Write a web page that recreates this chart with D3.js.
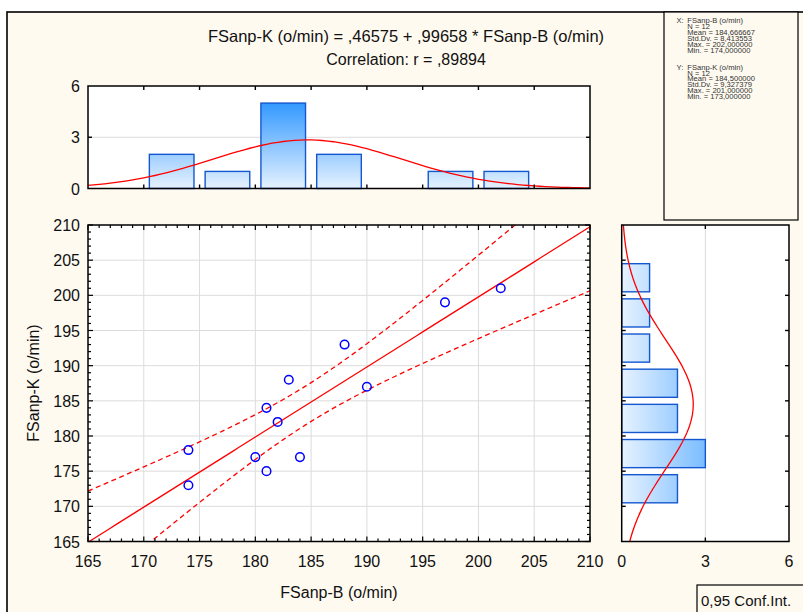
<!DOCTYPE html>
<html><head><meta charset="utf-8">
<script src="https://cdn.jsdelivr.net/npm/d3@7"></script>
<style>
html,body{margin:0;padding:0;background:#fff;}
svg{display:block;font-family:"Liberation Sans",Arial,sans-serif;}
</style></head><body>
<svg id="c" width="803" height="612"></svg>
<script>
// ---- data ----
const xVals = [174,174,180,181,181,182,183,184,188,190,197,202]; // FSanp-B
const yVals = [178,173,177,175,184,182,188,177,193,187,199,201]; // FSanp-K
const xTicks = [165,170,175,180,185,190,195,200,205,210];
const yTicks = [165,170,175,180,185,190,195,200,205,210];
const histTicks = [0,3,6];
const binEdges = [170,175,180,185,190,195,200,205];
const titleLines = ["FSanp-K (o/min) = ,46575 + ,99658 * FSanp-B (o/min)","Correlation: r = ,89894"];
const statsX = ["X:  FSanp-B (o/min)","N = 12","Mean = 184,666667","Std.Dv. = 8,413553","Max. = 202,000000","Min. = 174,000000"];
const statsY = ["Y:  FSanp-K (o/min)","N = 12","Mean = 184,500000","Std.Dv. = 9,327379","Max. = 201,000000","Min. = 173,000000"];
const xLabel = "FSanp-B (o/min)", yLabel = "FSanp-K (o/min)";
const ciLabel = "0,95 Conf.Int.";
const tCrit = 2.228139; // t(0.975, df=10)

const svg = d3.select("#c");
const bg = "#fffaf0";
svg.append("rect").attr("x",0).attr("y",0).attr("width",803).attr("height",612).attr("fill","#fff");
svg.append("rect").attr("x",7).attr("y",12).attr("width",820).attr("height",620).attr("fill",bg).attr("stroke","#000").attr("stroke-width",1.6);

const defs = svg.append("defs");

// panels
const S = {l:88, r:590, t:225, b:541.5};
const T = {l:88, r:590, t:86, b:188.5};
const R = {l:621.7, r:789, t:225, b:541.5};

const x = d3.scaleLinear().domain([165,210]).range([S.l,S.r]);
const y = d3.scaleLinear().domain([165,210]).range([S.b,S.t]);
const hy = d3.scaleLinear().domain([0,6]).range([T.b,T.t]);
const hx = d3.scaleLinear().domain([0,6]).range([R.l,R.r]);

// stats
const n = xVals.length;
const mx = d3.mean(xVals), my = d3.mean(yVals);
const sx = d3.deviation(xVals), sy = d3.deviation(yVals);
let sxy=0, sxx=0;
xVals.forEach((v,i)=>{sxy+=(v-mx)*(yVals[i]-my); sxx+=(v-mx)*(v-mx);});
const slope = sxy/sxx, icpt = my - slope*mx;
let sse=0; xVals.forEach((v,i)=>{const e=yVals[i]-(icpt+slope*v); sse+=e*e;});
const se = Math.sqrt(sse/(n-2));
const pdf = (v,m,s)=>Math.exp(-0.5*((v-m)/s)**2)/(s*Math.sqrt(2*Math.PI));
const binW = 5;

function panelBg(P){
  svg.append("rect").attr("x",P.l).attr("y",P.t).attr("width",P.r-P.l).attr("height",P.b-P.t).attr("fill","#fff");
}
function panelBorder(P){
  svg.append("rect").attr("x",P.l).attr("y",P.t).attr("width",P.r-P.l).attr("height",P.b-P.t).attr("fill","none").attr("stroke","#000").attr("stroke-width",1.5);
}
const grid = "#dcdcdc";

// ===== Scatter panel =====
panelBg(S);
const gS = svg.append("g");
gS.selectAll(".gx").data(xTicks.slice(1,-1)).join("line").attr("x1",d=>x(d)).attr("x2",d=>x(d)).attr("y1",S.t).attr("y2",S.b).attr("stroke",grid).attr("stroke-width",1);
gS.selectAll(".gy").data(yTicks.slice(1,-1)).join("line").attr("y1",d=>y(d)).attr("y2",d=>y(d)).attr("x1",S.l).attr("x2",S.r).attr("stroke",grid).attr("stroke-width",1);

const clipS = defs.append("clipPath").attr("id","clipS");
clipS.append("rect").attr("x",S.l).attr("y",S.t).attr("width",S.r-S.l).attr("height",S.b-S.t);
const gc = svg.append("g").attr("clip-path","url(#clipS)");
const xs = d3.range(165,210.01,0.5);
gc.append("path").datum(xs).attr("fill","none").attr("stroke","#ff0000").attr("stroke-width",1.3)
  .attr("d",d3.line().x(d=>x(d)).y(d=>y(icpt+slope*d)));
const band = d=> tCrit*se*Math.sqrt(1/n + (d-mx)**2/sxx);
[1,-1].forEach(sg=>{
  gc.append("path").datum(xs).attr("fill","none").attr("stroke","#ff0000").attr("stroke-width",1.3).attr("stroke-dasharray","5,3.5")
    .attr("d",d3.line().x(d=>x(d)).y(d=>y(icpt+slope*d+sg*band(d))));
});
svg.append("g").selectAll("circle").data(xVals.map((v,i)=>[v,yVals[i]])).join("circle")
  .attr("cx",d=>x(d[0])).attr("cy",d=>y(d[1])).attr("r",4.3).attr("fill","none").attr("stroke","#0000ff").attr("stroke-width",1.5);

// ticks scatter (major+minor, inward on all sides)
const minor = d3.range(165,211,1);
const tk = svg.append("g").attr("stroke","#000").attr("stroke-width",1.2);
minor.forEach(v=>{
  const L = (v%5===0)?5:3;
  tk.append("line").attr("x1",x(v)).attr("x2",x(v)).attr("y1",S.b).attr("y2",S.b-L);
  tk.append("line").attr("x1",x(v)).attr("x2",x(v)).attr("y1",S.t).attr("y2",S.t+L);
  tk.append("line").attr("y1",y(v)).attr("y2",y(v)).attr("x1",S.l).attr("x2",S.l+L);
  tk.append("line").attr("y1",y(v)).attr("y2",y(v)).attr("x1",S.r).attr("x2",S.r-L);
});
panelBorder(S);

const tickFont = 16;
svg.append("g").selectAll("text").data(xTicks).join("text").attr("x",d=>x(d)).attr("y",567)
  .attr("text-anchor","middle").attr("font-size",tickFont).attr("fill","#111").text(d=>d);
svg.append("g").selectAll("text").data(yTicks).join("text").attr("x",80).attr("y",d=>y(d)+6)
  .attr("text-anchor","end").attr("font-size",tickFont).attr("fill","#111").text(d=>d);

// ===== Top histogram =====
panelBg(T);
svg.append("line").attr("x1",T.l).attr("x2",T.r).attr("y1",hy(3)).attr("y2",hy(3)).attr("stroke",grid);
const gradT = defs.append("linearGradient").attr("id","gT").attr("gradientUnits","userSpaceOnUse")
  .attr("x1",0).attr("x2",0).attr("y1",hy(0)).attr("y2",hy(6));
gradT.append("stop").attr("offset",0).attr("stop-color","#e6f2ff");
gradT.append("stop").attr("offset",1).attr("stop-color","#0f87ff");
const binsX = d3.bin().domain([170,205]).thresholds(binEdges)(xVals.map(v=>v-1e-9));
svg.append("g").selectAll("rect").data(binsX).join("rect")
  .attr("x",d=>x(d.x0)+(x(d.x1)-x(d.x0))*0.1)
  .attr("width",d=>(x(d.x1)-x(d.x0))*0.8)
  .attr("y",d=>hy(d.length)).attr("height",d=>hy(0)-hy(d.length))
  .attr("fill","url(#gT)").attr("stroke","#1457d0").attr("stroke-width",1.4)
  .attr("display",d=>d.length? null:"none");
const clipT = defs.append("clipPath").attr("id","clipT");
clipT.append("rect").attr("x",T.l).attr("y",T.t).attr("width",T.r-T.l).attr("height",T.b-T.t);
svg.append("path").datum(xs).attr("clip-path","url(#clipT)").attr("fill","none").attr("stroke","#ff0000").attr("stroke-width",1.3)
  .attr("d",d3.line().x(d=>x(d)).y(d=>hy(n*binW*pdf(d,mx,sx))));
const tkT = svg.append("g").attr("stroke","#000").attr("stroke-width",1.4);
xTicks.slice(1,-1).forEach(v=>{
  tkT.append("line").attr("x1",x(v)).attr("x2",x(v)).attr("y1",T.b).attr("y2",T.b-4);
  tkT.append("line").attr("x1",x(v)).attr("x2",x(v)).attr("y1",T.t).attr("y2",T.t+4);
});
[3].forEach(v=>{
  tkT.append("line").attr("y1",hy(v)).attr("y2",hy(v)).attr("x1",T.l).attr("x2",T.l+4);
  tkT.append("line").attr("y1",hy(v)).attr("y2",hy(v)).attr("x1",T.r).attr("x2",T.r-4);
});
panelBorder(T);
svg.append("g").selectAll("text").data(histTicks).join("text").attr("x",80).attr("y",d=>hy(d)+6)
  .attr("text-anchor","end").attr("font-size",tickFont).attr("fill","#111").text(d=>d);

// ===== Right histogram =====
panelBg(R);
svg.append("line").attr("x1",hx(3)).attr("x2",hx(3)).attr("y1",R.t).attr("y2",R.b).attr("stroke",grid);
const gradR = defs.append("linearGradient").attr("id","gR").attr("gradientUnits","userSpaceOnUse")
  .attr("x1",hx(0)).attr("x2",hx(6)).attr("y1",0).attr("y2",0);
gradR.append("stop").attr("offset",0).attr("stop-color","#e6f2ff");
gradR.append("stop").attr("offset",1).attr("stop-color","#0f87ff");
const binsY = d3.bin().domain([170,205]).thresholds(binEdges)(yVals.map(v=>v-1e-9));
svg.append("g").selectAll("rect").data(binsY).join("rect")
  .attr("y",d=>y(d.x1)+(y(d.x0)-y(d.x1))*0.1)
  .attr("height",d=>(y(d.x0)-y(d.x1))*0.8)
  .attr("x",hx(0)).attr("width",d=>hx(d.length)-hx(0))
  .attr("fill","url(#gR)").attr("stroke","#1457d0").attr("stroke-width",1.4)
  .attr("display",d=>d.length? null:"none");
const clipR = defs.append("clipPath").attr("id","clipR");
clipR.append("rect").attr("x",R.l).attr("y",R.t).attr("width",R.r-R.l).attr("height",R.b-R.t);
svg.append("path").datum(xs).attr("clip-path","url(#clipR)").attr("fill","none").attr("stroke","#ff0000").attr("stroke-width",1.3)
  .attr("d",d3.line().y(d=>y(d)).x(d=>hx(n*binW*pdf(d,my,sy))));
const tkR = svg.append("g").attr("stroke","#000").attr("stroke-width",1.4);
yTicks.slice(1,-1).forEach(v=>{
  tkR.append("line").attr("y1",y(v)).attr("y2",y(v)).attr("x1",R.l).attr("x2",R.l+4);
  tkR.append("line").attr("y1",y(v)).attr("y2",y(v)).attr("x1",R.r).attr("x2",R.r-4);
});
[3].forEach(v=>{
  tkR.append("line").attr("x1",hx(v)).attr("x2",hx(v)).attr("y1",R.t).attr("y2",R.t+4);
  tkR.append("line").attr("x1",hx(v)).attr("x2",hx(v)).attr("y1",R.b).attr("y2",R.b-4);
});
panelBorder(R);
svg.append("g").selectAll("text").data(histTicks).join("text").attr("x",d=>hx(d)).attr("y",567)
  .attr("text-anchor","middle").attr("font-size",tickFont).attr("fill","#111").text(d=>d);

// ===== Titles =====
svg.append("g").selectAll("text").data(titleLines).join("text").attr("x",406).attr("y",(d,i)=>41.5+i*23)
  .attr("text-anchor","middle").attr("font-size",(d,i)=>i===0?16.5:16).attr("fill","#111").text(d=>d);
svg.append("text").attr("x",339).attr("y",598).attr("text-anchor","middle").attr("font-size",16).attr("fill","#111").text(xLabel);
svg.append("text").attr("transform","translate(39,383) rotate(-90)").attr("text-anchor","middle").attr("font-size",16).attr("fill","#111").text(yLabel);

// ===== Stats box =====
svg.append("rect").attr("x",664).attr("y",12).attr("width",134).attr("height",208).attr("fill",bg).attr("stroke","#000").attr("stroke-width",1.2);
const st = svg.append("g").attr("font-size",6.6).attr("fill","#333");
function sText(xx,yy,s){
  st.append("text").attr("transform",`translate(${xx},${yy}) scale(1.15,1)`).text(s);
}
[statsX, statsY].forEach((arr,k)=>{
  arr.forEach((s,i)=>{
    const yy = 23 + k*46.6 + i*5.9;
    if(i===0){
      const parts = s.split(/\s{2}/);
      sText(676.5,yy,parts[0]);
      sText(687.3,yy,parts[1]);
    } else {
      sText(687.3,yy,s);
    }
  });
});

// ===== Conf.Int box =====
svg.append("rect").attr("x",697).attr("y",585).attr("width",120).attr("height",40).attr("fill",bg).attr("stroke","#000").attr("stroke-width",1.2);
svg.append("text").attr("x",701).attr("y",606).attr("font-size",15).attr("fill","#111").text(ciLabel);
</script>
</body></html>
